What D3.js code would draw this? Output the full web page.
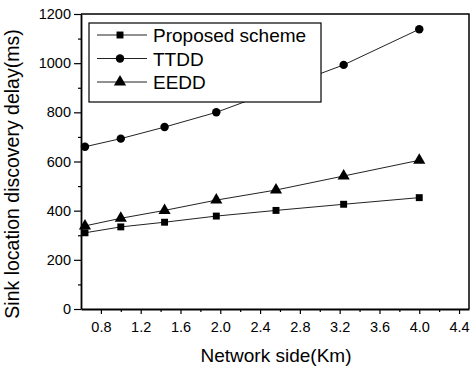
<!DOCTYPE html>
<html>
<head>
<meta charset="utf-8">
<script src="https://cdn.jsdelivr.net/npm/d3@7"></script>
<style>
  body { margin: 0; background: #fff; }
  svg text { font-family: Arial, "Liberation Sans", sans-serif; fill: #000; }
</style>
</head>
<body>
<svg width="470" height="369"></svg>
<script>
var svg = d3.select("svg");

// data
var sides = [0.64, 1.0, 1.44, 1.96, 2.56, 3.24, 4.0];
var proposed = [310, 334, 353, 378, 401, 426, 453];
var ttdd = [660, 693, 740, 800, 890, 993, 1138];
var eedd = [338, 369, 401, 443, 484, 541, 605];
var seriesNames = ["Proposed scheme", "TTDD", "EEDD"];
var seriesShapes = [d3.symbolSquare, d3.symbolCircle, d3.symbolTriangle];
var xTicks = [0.8, 1.2, 1.6, 2.0, 2.4, 2.8, 3.2, 3.6, 4.0, 4.4];
var yTicks = [0, 200, 400, 600, 800, 1000, 1200];

// plot box (window.top is taken, so mTop)
var mLeft = 81, mRight = 469, mTop = 14, mBottom = 309;

var x = d3.scaleLinear().domain([0.6, 4.5]).range([mLeft, mRight]);
var y = d3.scaleLinear().domain([0, 1200]).range([mBottom, mTop]);

// minor ticks
var xMinor = d3.range(1.0, 4.3, 0.4);
var yMinor = d3.range(100, 1200, 200);

svg.append("g")
    .attr("transform", "translate(0," + mBottom + ")")
    .call(d3.axisBottom(x).tickValues(xMinor).tickSize(3).tickFormat(""))
    .call(function(g) { g.select(".domain").remove(); });
svg.append("g")
    .attr("transform", "translate(" + mLeft + ",0)")
    .call(d3.axisLeft(y).tickValues(yMinor).tickSize(3).tickFormat(""))
    .call(function(g) { g.select(".domain").remove(); });

svg.append("g")
    .attr("transform", "translate(0," + mBottom + ")")
    .call(d3.axisBottom(x).tickValues(xTicks).tickSize(5).tickPadding(8)
      .tickFormat(d3.format(".1f")).tickSizeOuter(0));
svg.append("g")
    .attr("transform", "translate(" + mLeft + ",0)")
    .call(d3.axisLeft(y).tickValues(yTicks).tickSize(7).tickPadding(3)
      .tickFormat(d3.format("d")).tickSizeOuter(0));

svg.selectAll(".tick text").style("font-size", "14.5px");
svg.selectAll(".domain").attr("stroke-width", 1.8);
svg.selectAll(".tick line").attr("stroke-width", 1.2);

// frame top and right
svg.append("path")
    .attr("d", "M" + mLeft + "," + mTop + "H" + mRight + "V" + mBottom)
    .attr("fill", "none").attr("stroke", "#000").attr("stroke-width", 1.5);

var line = d3.line()
    .x(function(d, i) { return x(sides[i]); })
    .y(function(d) { return y(d); });

var allSeries = [proposed, ttdd, eedd];
var sizes = [48, 56, 64];

allSeries.forEach(function(vals, k) {
  svg.append("path")
      .datum(vals)
      .attr("d", line)
      .attr("fill", "none")
      .attr("stroke", "#222")
      .attr("stroke-width", 1);
  svg.selectAll(".m" + k)
      .data(vals)
      .enter().append("path")
      .attr("class", "m" + k)
      .attr("transform", function(d, i) { return "translate(" + x(sides[i]) + "," + y(d) + ")"; })
      .attr("d", d3.symbol().type(seriesShapes[k]).size(sizes[k]))
      .attr("fill", "#000");
});

// legend
var legend = svg.append("g");
legend.append("rect")
    .attr("x", 89).attr("y", 23).attr("width", 232).attr("height", 79)
    .attr("fill", "#fff").attr("stroke", "#000").attr("stroke-width", 1.2);

seriesNames.forEach(function(name, k) {
  var ly = 35 + k * 23.5;
  legend.append("line")
      .attr("x1", 97).attr("x2", 147).attr("y1", ly).attr("y2", ly)
      .attr("stroke", "#222").attr("stroke-width", 1);
  legend.append("path")
      .attr("transform", "translate(120," + ly + ")")
      .attr("d", d3.symbol().type(seriesShapes[k]).size(sizes[k]))
      .attr("fill", "#000");
  legend.append("text")
      .attr("x", 153).attr("y", ly + 7)
      .style("font-size", "19px")
      .text(name);
});

// axis titles
svg.append("text")
    .attr("x", (mLeft + mRight) / 2 + 1).attr("y", 362)
    .attr("text-anchor", "middle")
    .style("font-size", "19px")
    .text("Network side(Km)");

svg.append("text")
    .attr("transform", "translate(19,174) rotate(-90)")
    .attr("text-anchor", "middle")
    .style("font-size", "19.5px")
    .text("Sink location discovery delay(ms)");
</script>
</body>
</html>
